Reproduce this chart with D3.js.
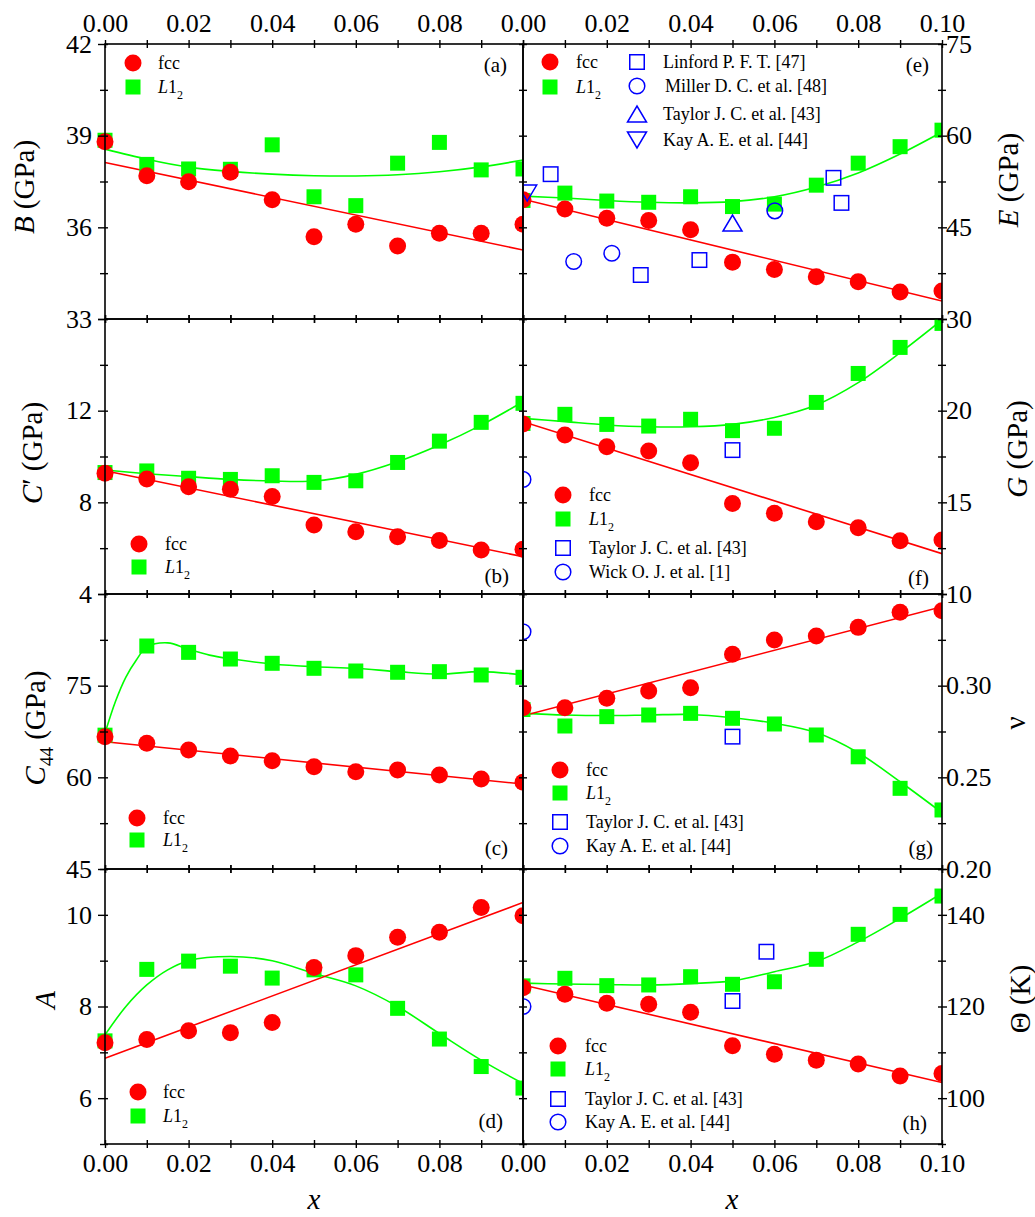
<!DOCTYPE html>
<html><head><meta charset="utf-8">
<script src="https://cdn.jsdelivr.net/npm/d3@7"></script>
<style>body{margin:0;background:#fff} svg{display:block} text{font-family:"Liberation Serif","Times New Roman",serif}</style>
</head><body><svg id="c" width="1035" height="1217"></svg>
<script>
// ---------- data ----------
const xs = [0,0.01,0.02,0.03,0.04,0.05,0.06,0.07,0.08,0.09,0.10];
const xTickVals = [0,0.01,0.02,0.03,0.04,0.05,0.06,0.07,0.08,0.09,0.10];
const xLabelsLeft = [0,0.02,0.04,0.06,0.08];
const xLabelsRight = [0,0.02,0.04,0.06,0.08,0.10];
const fitX = [0,0.01,0.02,0.03,0.04,0.05,0.06,0.07,0.08,0.09,0.10];
const lineX = [0,0.10];

// (a) B
const fccB = [38.80,37.69,37.49,37.80,36.90,35.69,36.10,35.39,35.81,35.81,36.10];
const l12B = [38.85,38.06,37.91,37.90,38.70,37.00,36.71,38.10,38.78,37.88,37.91];
const lineFccB = [38.12,35.26];
const fitL12B = [38.56,38.23,37.97,37.83,37.74,37.69,37.68,37.72,37.82,37.98,38.20];
// (e) E
const fccE = [49.5,48.0,46.5,46.1,44.6,39.3,38.1,36.9,36.1,34.4,34.6];
const l12E = [49.4,50.6,49.3,49.1,50.0,48.4,48.8,51.9,55.5,58.2,60.9];
const lineFccE = [49.6,32.95];
const fitL12E = [50.1,49.8,49.4,49.1,49.0,49.2,50.0,51.6,53.9,57.0,60.6];
const linfordX = [0.0066,0.0281,0.0421,0.0741,0.0760];
const linfordE = [53.7,37.2,39.65,53.1,49.0];
const millerX = [0.0121,0.0212,0.0601];
const millerE = [39.4,40.75,47.7];
const taylorXE = [0.05];
const taylorE = [45.7];
const kayXE = [0.001];
const kayE = [50.6];
// (b) C'
const fccCp = [9.27,9.02,8.68,8.57,8.25,7.01,6.72,6.50,6.33,5.92,5.95];
const l12Cp = [9.30,9.37,9.05,9.00,9.16,8.87,8.94,9.74,10.67,11.49,12.32];
const lineFccCp = [9.38,5.63];
const fitL12Cp = [9.41,9.25,9.12,9.00,8.93,8.93,9.22,9.77,10.50,11.37,12.39];
// (f) G
const fccG = [19.27,18.67,18.03,17.80,17.16,14.94,14.40,13.94,13.61,12.90,12.94];
const l12G = [19.30,19.80,19.25,19.16,19.53,18.91,19.04,20.45,22.03,23.45,24.76];
const lineFccG = [19.4,12.2];
const fitL12G = [19.58,19.40,19.22,19.12,19.12,19.25,19.63,20.31,21.53,23.16,24.95];
const taylorXG = [0.05];
const taylorG = [17.85];
const wickXG = [0];
const wickG = [16.25];
// (c) C44
const fccC44 = [66.65,65.57,64.47,63.49,62.72,61.74,60.92,61.20,60.38,59.73,59.18];
const l12C44 = [66.9,81.49,80.45,79.36,78.66,77.84,77.40,77.19,77.29,76.75,76.37];
const lineFccC44 = [65.83,58.9];
const fitXC44 = [0,0.0025,0.005,0.0075,0.01,0.015,0.02,0.025,0.03,0.04,0.05,0.06,0.07,0.08,0.09,0.10];
const fitL12C44 = [67.2,72.4,76.4,79.2,81.3,82.0,80.95,80.0,79.4,78.55,78.1,77.84,77.3,76.9,77.3,76.75];
// (g) nu
const fccNu = [0.288,0.288,0.2931,0.2971,0.2989,0.3171,0.3249,0.3271,0.3318,0.3400,0.3409];
const l12Nu = [0.287,0.278,0.2831,0.2840,0.2849,0.2822,0.2791,0.2731,0.2612,0.2440,0.2322];
const lineFccNu = [0.2836,0.3431];
const fitL12Nu = [0.2849,0.2840,0.2837,0.2840,0.2843,0.2825,0.2795,0.2744,0.2634,0.2476,0.2307];
const taylorXNu = [0.05];
const taylorNu = [0.2722];
const kayXNu = [0];
const kayNu = [0.3294];
// (d) A
const fccA = [7.21,7.28,7.47,7.43,7.65,8.85,9.11,9.51,9.62,10.16,9.98];
const l12A = [7.25,8.81,8.99,8.88,8.62,8.80,8.69,7.96,7.29,6.69,6.22];
const lineFccA = [6.87,10.27];
const fitXA = [0,0.005,0.01,0.015,0.02,0.03,0.04,0.05,0.06,0.07,0.08,0.09,0.10];
const fitL12A = [7.38,8.0,8.47,8.80,9.0,9.09,9.0,8.72,8.45,8.0,7.41,6.83,6.32];
// (h) Theta
const fccT = [124.1,122.65,120.7,120.47,118.73,111.45,109.56,108.3,107.45,104.83,105.4];
const l12T = [124.5,126.15,124.55,124.7,126.5,124.84,125.4,130.3,135.75,140.1,144.1];
const lineFccT = [124.7,103.4];
const fitL12T = [125.1,124.9,124.8,124.7,125.0,125.6,127.6,129.8,134.1,139.2,144.7];
const taylorXT = [0.0581,0.05];
const taylorT = [131.95,121.2];
const kayXT = [0];
const kayT = [120.0];

// ---------- layout ----------
const RED = "#ff0000", GREEN = "#00ff00", BLUE = "#0000ff";
const cols = [{x0:105,x1:523},{x0:523,x1:942}];
const rows = [{y0:44,y1:319},{y0:319,y1:594},{y0:594,y1:869},{y0:869,y1:1144}];
const svg = d3.select("#c");
const defs = svg.append("defs");

const panels = [
 {id:"a",col:0,row:0,domain:[33,42],major:[33,36,39,42],minor:[34.5,37.5,40.5],labels:[33,36,39,42],fmt:d3.format("d"),
  fcc:fccB,l12:l12B,line:lineFccB,fitx:fitX,fit:fitL12B,lab:{x:507,y:72},
  legend:{x:133,tx:158,ys:[63,87]},extra:[]},
 {id:"b",col:0,row:1,domain:[4,16],major:[4,8,12,16],minor:[6,10,14],labels:[4,8,12],fmt:d3.format("d"),
  fcc:fccCp,l12:l12Cp,line:lineFccCp,fitx:fitX,fit:fitL12Cp,lab:{x:509,y:583},
  legend:{x:139,tx:165,ys:[544,567]},extra:[]},
 {id:"c",col:0,row:2,domain:[45,90],major:[45,60,75,90],minor:[52.5,67.5,82.5],labels:[45,60,75],fmt:d3.format("d"),
  fcc:fccC44,l12:l12C44,line:lineFccC44,fitx:fitXC44,fit:fitL12C44,lab:{x:508,y:855},
  legend:{x:137,tx:163,ys:[818,840]},extra:[]},
 {id:"d",col:0,row:3,domain:[5,11],major:[6,8,10],minor:[5,7,9,11],labels:[6,8,10],fmt:d3.format("d"),
  fcc:fccA,l12:l12A,line:lineFccA,fitx:fitXA,fit:fitL12A,lab:{x:503,y:1128},
  legend:{x:138,tx:163,ys:[1092,1116]},extra:[]},
 {id:"e",col:1,row:0,domain:[30,75],major:[30,45,60,75],minor:[37.5,52.5,67.5],labels:[30,45,60,75],fmt:d3.format("d"),
  fcc:fccE,l12:l12E,line:lineFccE,fitx:fitX,fit:fitL12E,lab:{x:929,y:72},
  legend:{x:550,tx:576,ys:[62,87]},
  extra:[{sym:"square",xs:linfordX,ys:linfordE,name:"Linford P. F. T. [47]",lx:637,ly:62,ltx:663},
         {sym:"circle",xs:millerX,ys:millerE,name:"Miller D. C. et al. [48]",lx:637,ly:86,ltx:665},
         {sym:"up",xs:taylorXE,ys:taylorE,name:"Taylor J. C. et al. [43]",lx:637,ly:114,ltx:663},
         {sym:"down",xs:kayXE,ys:kayE,name:"Kay A. E. et al. [44]",lx:637,ly:140,ltx:663}]},
 {id:"f",col:1,row:1,domain:[10,25],major:[10,15,20,25],minor:[12.5,17.5,22.5],labels:[10,15,20],fmt:d3.format("d"),
  fcc:fccG,l12:l12G,line:lineFccG,fitx:fitX,fit:fitL12G,lab:{x:929,y:585},
  legend:{x:563,tx:589,ys:[495,519]},
  extra:[{sym:"square",xs:taylorXG,ys:taylorG,name:"Taylor J. C. et al. [43]",lx:563,ly:548,ltx:589},
         {sym:"circle",xs:wickXG,ys:wickG,name:"Wick O. J. et al. [1]",lx:563,ly:572,ltx:589}]},
 {id:"g",col:1,row:2,domain:[0.20,0.35],major:[0.20,0.25,0.30,0.35],minor:[0.225,0.275,0.325],labels:[0.20,0.25,0.30],fmt:d3.format(".2f"),
  fcc:fccNu,l12:l12Nu,line:lineFccNu,fitx:fitX,fit:fitL12Nu,lab:{x:933,y:855},
  legend:{x:560,tx:586,ys:[770,793]},
  extra:[{sym:"square",xs:taylorXNu,ys:taylorNu,name:"Taylor J. C. et al. [43]",lx:560,ly:822,ltx:586},
         {sym:"circle",xs:kayXNu,ys:kayNu,name:"Kay A. E. et al. [44]",lx:560,ly:846,ltx:586}]},
 {id:"h",col:1,row:3,domain:[90,150],major:[100,120,140],minor:[90,110,130,150],labels:[100,120,140],fmt:d3.format("d"),
  fcc:fccT,l12:l12T,line:lineFccT,fitx:fitX,fit:fitL12T,lab:{x:927,y:1130},
  legend:{x:558,tx:585,ys:[1046,1069]},
  extra:[{sym:"square",xs:taylorXT,ys:taylorT,name:"Taylor J. C. et al. [43]",lx:558,ly:1099,ltx:585},
         {sym:"circle",xs:kayXT,ys:kayT,name:"Kay A. E. et al. [44]",lx:558,ly:1122,ltx:585}]}
];

function drawSym(g, sym, cx, cy, color, filled){
  const fill = filled ? color : "none";
  const sw = filled ? 0 : 1.5;
  if(sym==="circle"){
    g.append("circle").attr("cx",cx).attr("cy",cy).attr("r",filled?8.5:7.8)
     .attr("fill",fill).attr("stroke",color).attr("stroke-width",sw);
  } else if(sym==="square"){
    const s = filled?15:14.5;
    g.append("rect").attr("x",cx-s/2).attr("y",cy-s/2).attr("width",s).attr("height",s)
     .attr("fill",fill).attr("stroke",color).attr("stroke-width",sw);
  } else if(sym==="up"){
    const w=19,h=16;
    g.append("path").attr("d",`M${cx-w/2},${cy+h/2}L${cx+w/2},${cy+h/2}L${cx},${cy-h/2}Z`)
     .attr("fill",fill).attr("stroke",color).attr("stroke-width",sw);
  } else if(sym==="down"){
    const w=19,h=16;
    g.append("path").attr("d",`M${cx-w/2},${cy-h/2}L${cx+w/2},${cy-h/2}L${cx},${cy+h/2}Z`)
     .attr("fill",fill).attr("stroke",color).attr("stroke-width",sw);
  }
}

function l12Text(t){
  t.append("tspan").attr("font-style","italic").text("L");
  t.append("tspan").text("1");
  t.append("tspan").attr("font-size",12).attr("dy",6).text("2");
}

panels.forEach(p=>{
  const {x0,x1} = cols[p.col], {y0,y1} = rows[p.row];
  const x = d3.scaleLinear().domain([0,0.1]).range([x0,x1]);
  const y = d3.scaleLinear().domain(p.domain).range([y1,y0]);
  const g = svg.append("g");
  const cid = "clip"+p.id;
  defs.append("clipPath").attr("id",cid).append("rect")
    .attr("x", p.col===0 ? x0-20 : x0).attr("y", y0)
    .attr("width", p.col===0 ? (x1-x0+20) : (x1-x0+0)).attr("height", y1-y0);
  const body = g.append("g").attr("clip-path",`url(#${cid})`);

  // fitted lines
  const lineGen = d3.line().x(d=>x(d[0])).y(d=>y(d[1]));
  body.append("path").datum(d3.zip(p.fitx,p.fit))
    .attr("d", lineGen.curve(d3.curveCatmullRom.alpha(0.5)))
    .attr("fill","none").attr("stroke",GREEN).attr("stroke-width",1.6);
  body.append("path").datum(d3.zip(lineX,p.line))
    .attr("d", d3.line().x(d=>x(d[0])).y(d=>y(d[1]))).attr("fill","none").attr("stroke",RED).attr("stroke-width",1.6);

  // markers
  xs.forEach((xv,i)=>drawSym(body,"square",x(xv),y(p.l12[i]),GREEN,true));
  xs.forEach((xv,i)=>drawSym(body,"circle",x(xv),y(p.fcc[i]),RED,true));
  p.extra.forEach(e=>{
    e.xs.forEach((xv,i)=>drawSym(body,e.sym,x(xv),y(e.ys[i]),BLUE,false));
  });

  // frame
  g.append("rect").attr("x",x0).attr("y",y0).attr("width",x1-x0).attr("height",y1-y0)
    .attr("fill","none").attr("stroke","#000").attr("stroke-width",1.6);

  // x ticks top & bottom (crossing)
  const topAx = g.append("g").attr("transform",`translate(0,${y0})`)
    .call(d3.axisTop(x).tickValues(xTickVals).tickSize(0).tickFormat(""));
  topAx.select(".domain").remove();
  topAx.selectAll(".tick line").attr("y1",-4).attr("y2",4).attr("stroke","#000").attr("stroke-width",1.4);
  const botAx = g.append("g").attr("transform",`translate(0,${y1})`)
    .call(d3.axisBottom(x).tickValues(xTickVals).tickSize(0).tickFormat(""));
  botAx.select(".domain").remove();
  botAx.selectAll(".tick line").attr("y1",-4).attr("y2",4).attr("stroke","#000").attr("stroke-width",1.4);

  // y ticks both sides
  const allY = p.major.concat(p.minor);
  const isMajor = v => p.major.indexOf(v)>=0;
  const lAx = g.append("g").attr("transform",`translate(${x0},0)`)
    .call(d3.axisLeft(y).tickValues(allY).tickSize(0).tickFormat(""));
  lAx.select(".domain").remove();
  lAx.selectAll(".tick line").attr("x1", d=> p.col===0 ? (isMajor(d)?-7:-5) : 0).attr("x2", p.col===0?3:4)
     .attr("stroke","#000").attr("stroke-width",1.4);
  const rAx = g.append("g").attr("transform",`translate(${x1},0)`)
    .call(d3.axisRight(y).tickValues(allY).tickSize(0).tickFormat(""));
  rAx.select(".domain").remove();
  rAx.selectAll(".tick line").attr("x1", -4).attr("x2", d=> p.col===1 ? (isMajor(d)?5:4) : 0)
     .attr("stroke","#000").attr("stroke-width",1.4);

  // y tick labels
  if(p.col===0){
    const la = g.append("g").attr("transform",`translate(${x0},0)`)
      .call(d3.axisLeft(y).tickValues(p.labels).tickSize(0).tickPadding(13).tickFormat(p.fmt));
    la.select(".domain").remove();
    la.selectAll("text").attr("font-family","'Liberation Serif',serif").attr("font-size",26).attr("fill","#000");
  } else {
    const ra = g.append("g").attr("transform",`translate(${x1},0)`)
      .call(d3.axisRight(y).tickValues(p.labels).tickSize(0).tickPadding(4).tickFormat(p.fmt));
    ra.select(".domain").remove();
    ra.selectAll("text").attr("font-family","'Liberation Serif',serif").attr("font-size",26).attr("fill","#000");
  }
  // x tick labels
  const xl = p.col===0 ? xLabelsLeft : xLabelsRight;
  if(p.row===0){
    const ta = g.append("g").attr("transform",`translate(0,${y0})`)
      .call(d3.axisTop(x).tickValues(xl).tickSize(0).tickPadding(12).tickFormat(d3.format(".2f")));
    ta.select(".domain").remove();
    ta.selectAll("text").attr("font-family","'Liberation Serif',serif").attr("font-size",26).attr("fill","#000");
  }
  if(p.row===3){
    const ba = g.append("g").attr("transform",`translate(0,${y1})`)
      .call(d3.axisBottom(x).tickValues(xl).tickSize(0).tickPadding(9.5).tickFormat(d3.format(".2f")));
    ba.select(".domain").remove();
    ba.selectAll("text").attr("font-family","'Liberation Serif',serif").attr("font-size",26).attr("fill","#000");
  }

  // panel label
  g.append("text").attr("x",p.lab.x).attr("y",p.lab.y).attr("text-anchor","end")
    .attr("font-size",21).text(`(${p.id})`);

  // legend
  const L = p.legend;
  drawSym(g,"circle",L.x,L.ys[0],RED,true);
  g.append("text").attr("x",L.tx).attr("y",L.ys[0]+6).attr("font-size",18).text("fcc");
  drawSym(g,"square",L.x,L.ys[1],GREEN,true);
  l12Text(g.append("text").attr("x",L.tx).attr("y",L.ys[1]+6).attr("font-size",18));
  p.extra.forEach(e=>{
    drawSym(g,e.sym,e.lx,e.ly,BLUE,false);
    g.append("text").attr("x",e.ltx).attr("y",e.ly+6).attr("font-size",18).text(e.name);
  });
});

// axis titles
function yTitle(bx, cy, parts){
  const t = svg.append("text").attr("x",bx).attr("y",cy).attr("text-anchor","middle")
    .attr("transform",`rotate(-90,${bx},${cy})`).attr("font-size",29);
  parts.forEach(pt=>{
    const s = t.append("tspan").text(pt.t);
    if(pt.i) s.attr("font-style","italic");
    if(pt.fs) s.attr("font-size",pt.fs);
    if(pt.dy) s.attr("dy",pt.dy);
  });
}
yTitle(34,187,[{t:"B",i:1},{t:" (GPa)"}]);
yTitle(42,453,[{t:"C",i:1},{t:"′ (GPa)"}]);
yTitle(45,728,[{t:"C",i:1},{t:"44",fs:19,dy:8},{t:" (GPa)",dy:-8}]);
yTitle(55,1000,[{t:"A",i:1}]);
yTitle(1018,180,[{t:"E",i:1},{t:" (GPa)"}]);
yTitle(1027,449,[{t:"G",i:1},{t:" (GPa)"}]);
yTitle(1025,723,[{t:"ν"}]);
yTitle(1030,999,[{t:"Θ (K)"}]);

svg.append("text").attr("x",314).attr("y",1209).attr("text-anchor","middle")
  .attr("font-size",29).attr("font-style","italic").text("x");
svg.append("text").attr("x",732).attr("y",1209).attr("text-anchor","middle")
  .attr("font-size",29).attr("font-style","italic").text("x");
</script>
</body></html>
